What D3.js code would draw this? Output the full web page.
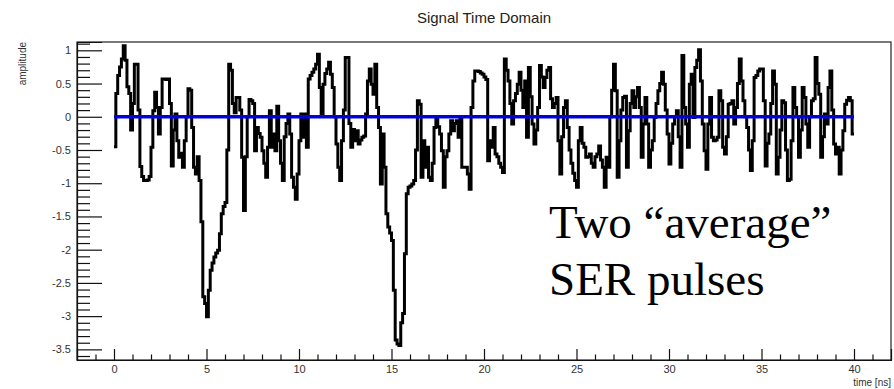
<!DOCTYPE html>
<html>
<head>
<meta charset="utf-8">
<script src="https://cdn.jsdelivr.net/npm/d3@7"></script>
<style>
  html, body { margin: 0; padding: 0; background: #fff; }
  svg { display: block; }
  .tick text { font-family: "Liberation Sans", Arial, Helvetica, sans-serif; }
</style>
</head>
<body>
<svg id="chart" width="894" height="389"></svg>
<script>
// Sampled waveform: 0.1 ns bins starting at t = 0 ns, one row per nanosecond
const binWidth = 0.1;
const binStart = 0;
const amplitude = [
  -0.45, 0.35, 0.62, 0.75, 0.87, 1.07, 0.85, 0.45, 0.35, -0.20,
   0.20, 0.79, 0.79, 0.10, -0.75, -0.90, -0.96, -0.96, -0.95, -0.90,
  -0.46, 0.09, 0.37, 0.14, -0.26, 0.14, 0.57, 0.57, 0.56, 0.57,
   0.20, -0.74, -0.20, 0.04, -0.36, -0.61, -0.55, -0.76, -0.36, 0.00,
   0.42, 0.40, -0.16, -0.76, -0.86, -0.60, -0.96, -1.58, -2.71, -2.81,
  -3.01, -2.61, -2.31, -2.20, -2.11, -2.05, -2.01, -1.76, -1.46, -1.35,
  -1.29, -0.50, 0.79, 0.70, 0.20, 0.06, 0.29, 0.29, 0.10, -0.61,
  -1.41, -0.60, 0.00, 0.26, 0.24, 0.20, -0.51, -0.16, -0.25, -0.31,
  -0.51, -0.70, -0.91, -0.46, 0.09, -0.46, -0.26, -0.51, 0.16, -0.36,
  -0.70, -0.96, -0.30, -0.10, 0.04, -0.26, -0.91, -1.06, -1.24, -0.86,
  -0.36, 0.04, -0.31, 0.04, -0.46, 0.57, 0.62, 0.67, 0.72, 0.79,
   0.94, 0.44, 0.04, 0.49, 0.65, 0.72, 0.82, 0.64, 0.44, 0.00,
  -0.41, -0.76, -0.96, -0.36, 0.10, 0.89, 0.89, -0.10, -0.46, -0.19,
  -0.36, -0.21, -0.41, -0.35, -0.31, -0.29, 0.04, 0.54, 0.72, 0.49,
   0.34, 0.79, 0.14, -0.16, -1.01, -0.26, -0.76, -1.46, -1.66, -1.75,
  -1.86, -2.61, -3.36, -3.42, -3.44, -3.10, -2.96, -2.06, -1.16, -1.06,
  -1.04, -1.01, -0.96, -0.50, 0.24, 0.19, -0.91, -0.36, -0.76, -0.46,
  -0.91, -0.96, -0.70, -0.16, -0.04, -0.15, -0.26, -0.51, -1.06, -0.60,
  -0.51, -0.26, -0.06, -0.21, -0.10, -0.06, -0.31, 0.00, -0.76, -0.76,
  -0.76, -0.86, -1.09, 0.14, 0.54, 0.69, 0.69, 0.68, 0.66, 0.64,
   0.60, 0.56, -0.66, -0.36, -0.46, -0.16, -0.56, -0.60, -0.70, -0.76,
  -0.84, 0.87, 0.70, 0.54, 0.20, -0.11, 0.24, 0.35, 0.49, 0.67,
   0.40, 0.14, 0.54, -0.31, 0.74, 0.30, -0.11, -0.41, -0.20, 0.14,
   0.77, 0.60, 0.44, 0.59, 0.70, 0.74, 0.27, 0.14, 0.20, 0.29,
  -0.36, -0.86, -0.30, 0.14, 0.24, -0.16, -0.50, -0.70, -0.85, -0.96,
  -1.06, -0.36, -0.16, -0.40, -0.46, -0.61, -0.60, -0.56, -0.70, -0.76,
  -0.60, -0.56, -0.44, -0.65, -0.76, -1.06, -0.61, -0.76, 0.00, 0.40,
   0.79, 0.39, -0.91, -0.36, 0.10, 0.29, 0.31, -0.76, -0.21, 0.20,
   0.39, 0.14, 0.30, 0.44, 0.14, -0.61, -0.11, 0.29, -0.11, -0.76,
  -0.50, -0.36, -0.01, 0.20, 0.39, 0.50, 0.67, 0.49, 0.10, -0.26,
  -0.71, -0.40, -0.11, 0.00, 0.09, -0.30, -0.76, 0.92, 0.14, -0.11,
  -0.46, 0.49, 0.64, -0.01, 0.74, 0.85, 1.01, 0.54, -0.11, -0.51,
  -0.79, -0.11, 0.29, -0.31, -0.36, -0.35, -0.31, 0.39, 0.24, -0.46,
  -0.56, -0.30, 0.19, 0.20, 0.24, -0.11, 0.14, 0.50, 0.87, 0.54,
   0.24, 0.00, -0.16, -0.50, -0.81, -0.36, 0.59, 0.62, 0.69, 0.72,
   0.72, 0.24, -0.74, -0.40, -0.26, 0.20, 0.69, 0.49, -0.86, -0.61,
  -0.20, 0.24, 0.21, -0.50, -0.96, -0.94, -0.36, 0.44, 0.14, 0.00,
  -0.61, -0.20, 0.44, 0.29, -0.11, -0.46, 0.00, 0.24, 0.27, 0.89,
   0.50, 0.34, -0.61, -0.30, 0.04, -0.11, 0.44, 0.69, 0.10, -0.41,
  -0.56, -0.46, -0.86, -0.50, -0.21, 0.19, 0.25, 0.29, 0.24, -0.26
];

// Reference (baseline) trace over the same window
const baselineTimes = [0, 40];
const baselineValues = [0, 0];

// Axis ticks
const xMajorTicks = [0, 5, 10, 15, 20, 25, 30, 35, 40];
const yMajorTicks = [1, 0.5, 0, -0.5, -1, -1.5, -2, -2.5, -3, -3.5];
const xRange = [-2, 42];
const yRange = [-3.66, 1.125];

const titleText = "Signal Time Domain";
const xTitle = "time [ns]";
const yTitle = "amplitude";
const noteLines = ["Two \u201Caverage\u201D", "SER pulses"];

const svg = d3.select("#chart");
const frame = { left: 77, right: 891, top: 42, bottom: 360 };

const x = d3.scaleLinear().domain(xRange).range([frame.left, frame.right]);
const y = d3.scaleLinear().domain(yRange).range([frame.bottom, frame.top]);

// minor ticks: every 1 ns on x, every 0.1 on y
const xMinor = d3.range(-1, 42, 1).filter(v => !xMajorTicks.includes(v));
const yMinor = d3.range(-36, 12, 1).map(v => v / 10).filter(v => Math.abs(v * 2 - Math.round(v * 2)) > 1e-6);

// frame
svg.append("rect")
  .attr("x", frame.left).attr("y", frame.top)
  .attr("width", frame.right - frame.left).attr("height", frame.bottom - frame.top)
  .attr("fill", "none").attr("stroke", "#222").attr("stroke-width", 1.2);

// waveform as a step histogram
const steps = amplitude.map((v, i) => [binStart + i * binWidth, v]);
steps.push([binStart + amplitude.length * binWidth, amplitude[amplitude.length - 1]]);

svg.append("path")
  .datum(steps)
  .attr("fill", "none")
  .attr("stroke", "#000")
  .attr("stroke-width", 3)
  .attr("stroke-linejoin", "miter")
  .attr("d", d3.line().x(d => x(d[0])).y(d => y(d[1])).curve(d3.curveStepAfter));

// baseline trace
const base = baselineTimes.map((t, i) => [t, baselineValues[i]]);
const baseLine = d3.line().x(d => x(d[0])).y(d => y(d[1]));
svg.append("path").datum(base)
  .attr("fill", "none").attr("stroke", "#0000ff").attr("stroke-width", 3.4)
  .attr("d", baseLine);
svg.append("path").datum(base)
  .attr("fill", "none").attr("stroke", "#000066").attr("stroke-width", 1)
  .attr("stroke-dasharray", "1,1.8")
  .attr("d", baseLine);

// axes
const axisFont = 11;
svg.append("g").attr("transform", `translate(${frame.left},0)`)
  .call(d3.axisLeft(y).tickValues(yMajorTicks).tickSize(-25).tickPadding(6)
    .tickFormat(d => String(d).replace("\u2212", "-")));
svg.append("g").attr("transform", `translate(${frame.left},0)`)
  .call(d3.axisLeft(y).tickValues(yMinor).tickSize(-13).tickFormat(""))
  .select(".domain").remove();

svg.append("g").attr("transform", `translate(0,${frame.bottom})`)
  .call(d3.axisBottom(x).tickValues(xMajorTicks).tickSize(-11).tickPadding(5));
svg.append("g").attr("transform", `translate(0,${frame.bottom})`)
  .call(d3.axisBottom(x).tickValues(xMinor).tickSize(-5.5).tickFormat(""))
  .select(".domain").remove();

svg.selectAll(".tick line").attr("stroke", "#111").attr("stroke-width", 1.2);
svg.selectAll(".domain").attr("stroke", "#111").attr("stroke-width", 1.2);
svg.selectAll(".tick text").attr("font-size", axisFont).attr("fill", "#333");

// titles
svg.append("text")
  .attr("x", (frame.left + frame.right) / 2).attr("y", 23)
  .attr("text-anchor", "middle")
  .attr("font-family", "Liberation Sans, Arial, sans-serif")
  .attr("font-size", 15).attr("fill", "#222")
  .text(titleText);

svg.append("text")
  .attr("x", frame.right).attr("y", 386)
  .attr("text-anchor", "end")
  .attr("font-family", "Liberation Sans, Arial, sans-serif")
  .attr("font-size", 10).attr("fill", "#333")
  .text(xTitle);

svg.append("text")
  .attr("transform", `translate(26,${frame.top}) rotate(-90)`)
  .attr("text-anchor", "end")
  .attr("font-family", "Liberation Sans, Arial, sans-serif")
  .attr("font-size", 10).attr("fill", "#333")
  .text(yTitle);

// annotation
const note = svg.append("text")
  .attr("font-family", "Liberation Serif, 'Times New Roman', serif")
  .attr("font-size", 47).attr("fill", "#000");
noteLines.forEach((line, i) => {
  note.append("tspan").attr("x", 549).attr("y", 238 + i * 57).text(line);
});
</script>
</body>
</html>
